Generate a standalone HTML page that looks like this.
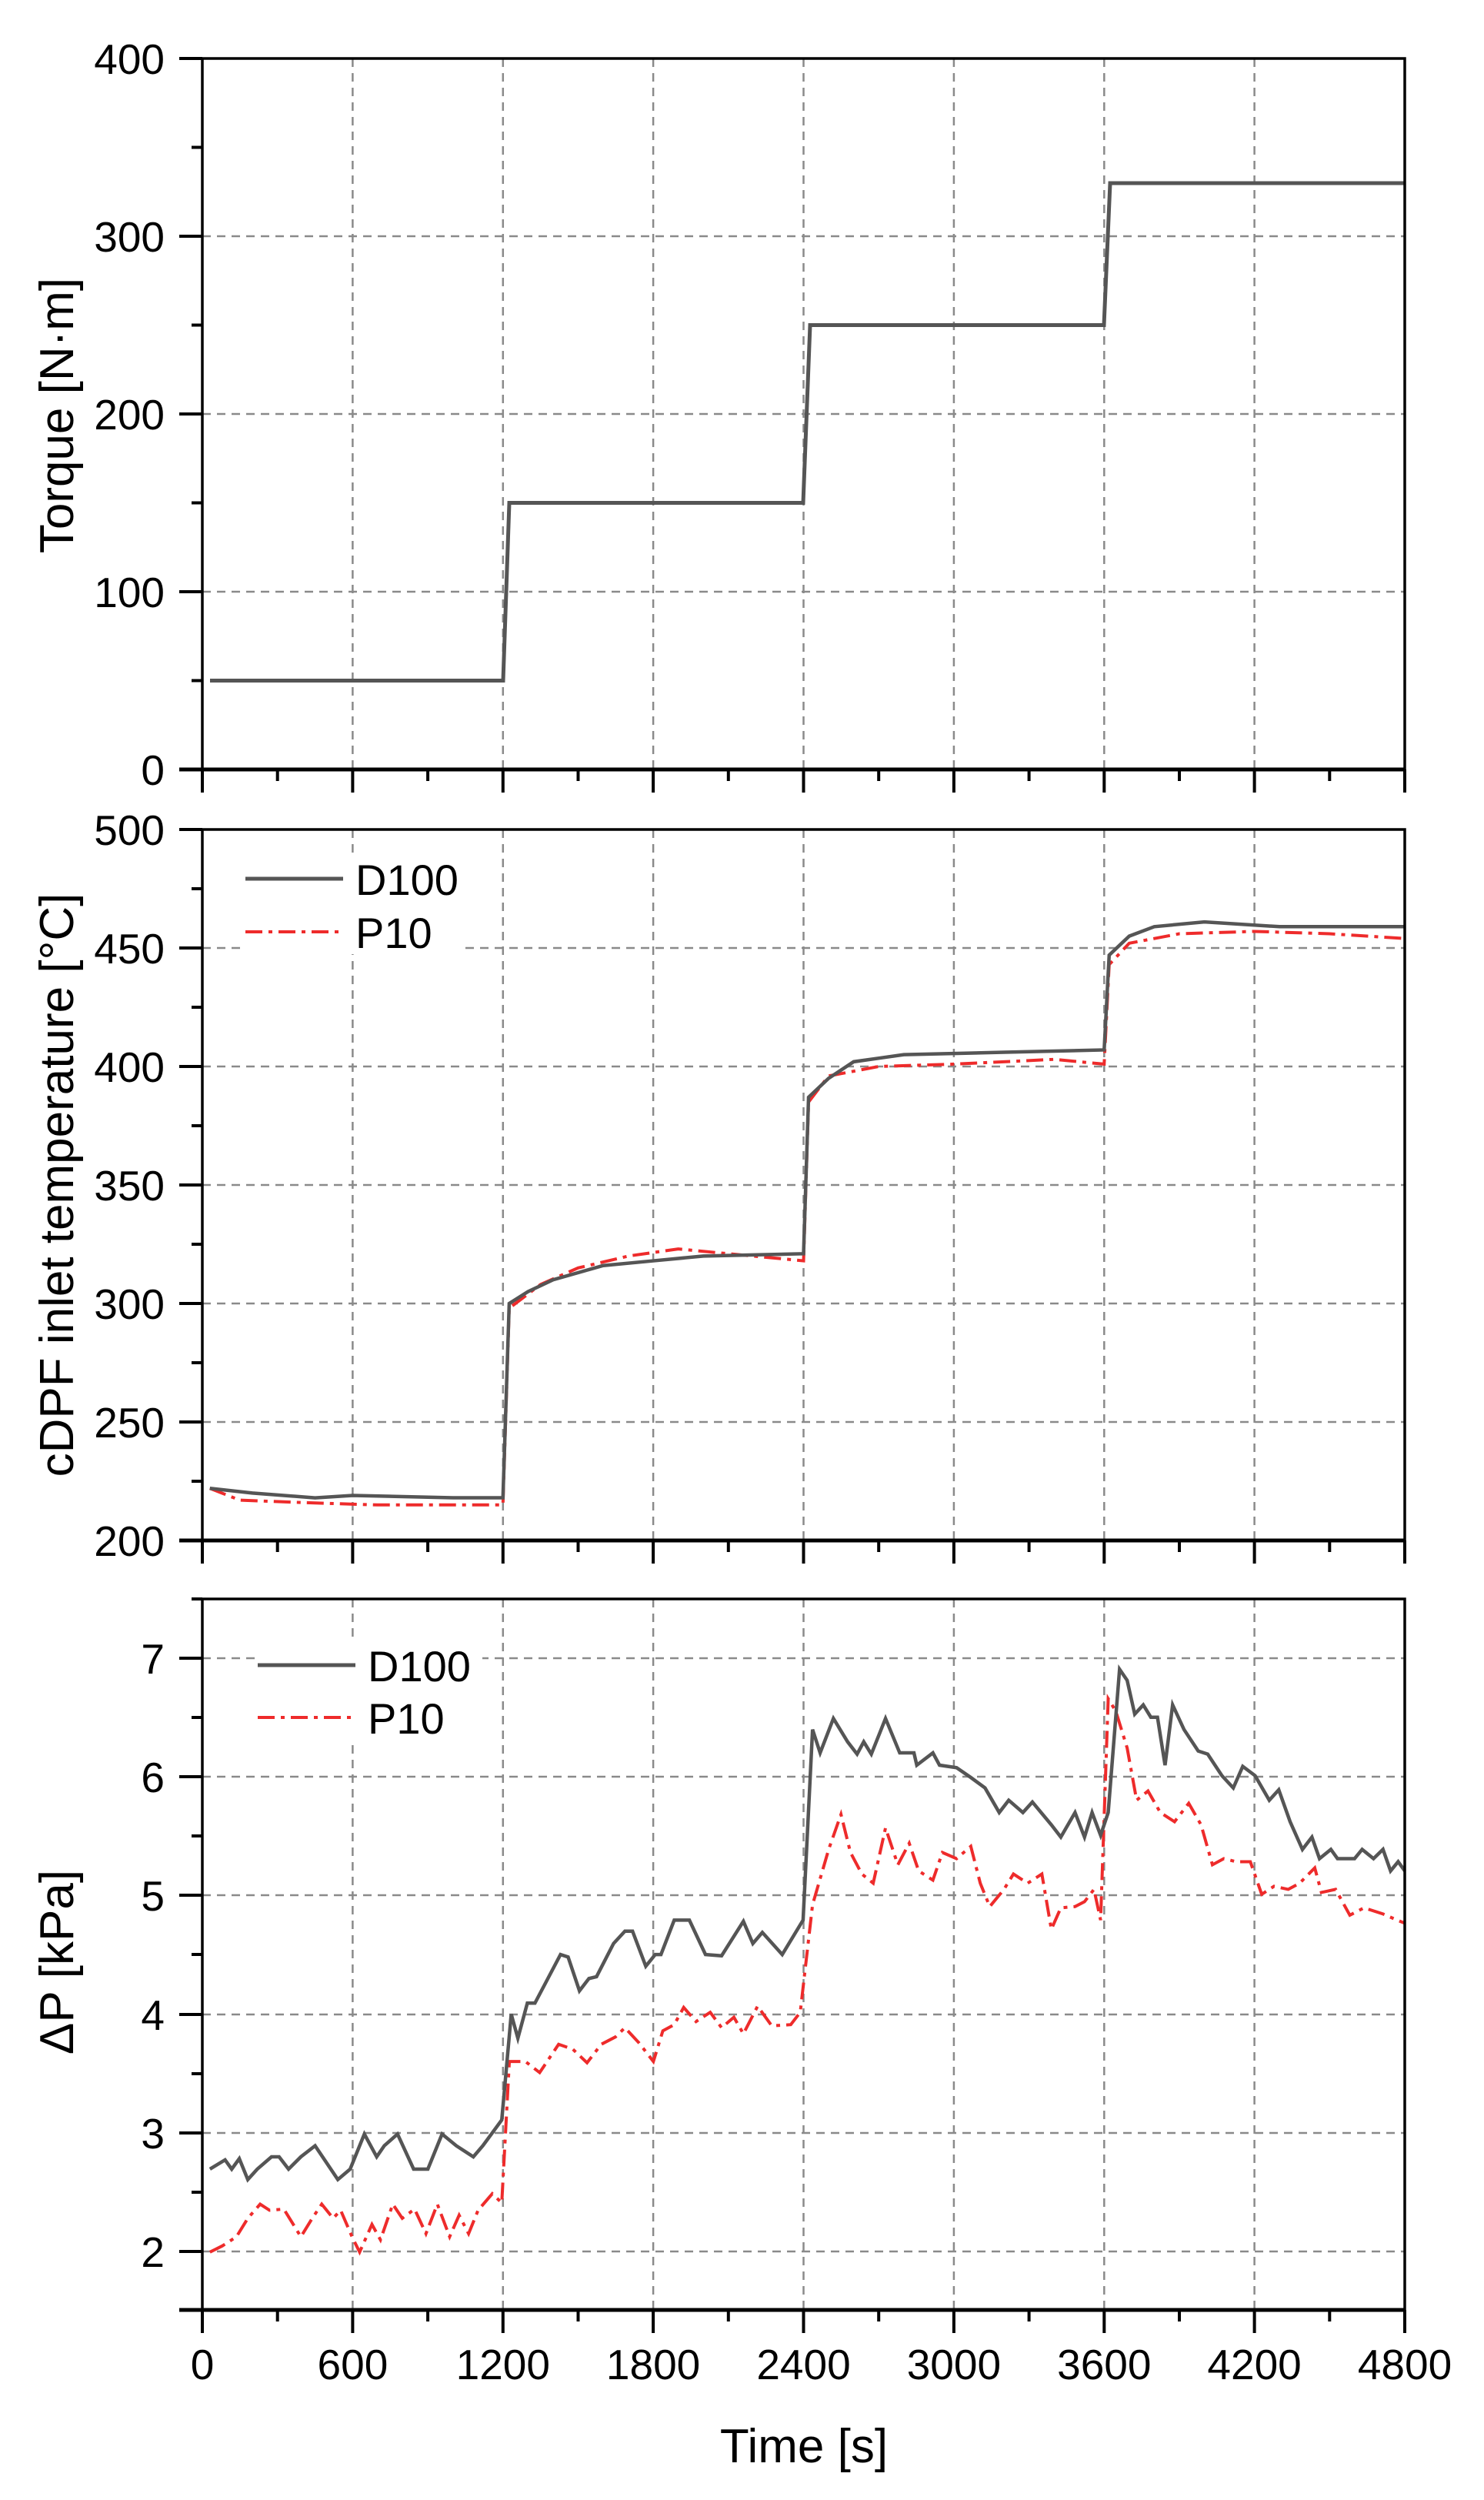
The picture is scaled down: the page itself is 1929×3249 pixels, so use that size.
<!DOCTYPE html>
<html><head><meta charset="utf-8"><style>
html,body{margin:0;padding:0;background:#fff;}
svg{display:block;}
text{font-family:"Liberation Sans",Arial,sans-serif;fill:#000;}
</style></head><body>
<svg width="1929" height="3249" viewBox="0 0 1929 3249" xmlns="http://www.w3.org/2000/svg">
<rect width="1929" height="3249" fill="#fff"/>
<g stroke="#8a8a8a" stroke-width="2.5" stroke-dasharray="11 8" fill="none">
  <path d="M458.4 76V1000M653.8 76V1000M849.1 76V1000M1044.5 76V1000M1239.9 76V1000M1435.3 76V1000M1630.6 76V1000"/>
  <path d="M458.4 1078V2002M653.8 1078V2002M849.1 1078V2002M1044.5 1078V2002M1239.9 1078V2002M1435.3 1078V2002M1630.6 1078V2002"/>
  <path d="M458.4 2078V3002M653.8 2078V3002M849.1 2078V3002M1044.5 2078V3002M1239.9 2078V3002M1435.3 2078V3002M1630.6 2078V3002"/>
  <path d="M263 307H1826M263 538H1826M263 769H1826"/>
  <path d="M263 1232H1826M263 1386H1826M263 1540H1826M263 1694H1826M263 1848H1826"/>
  <path d="M263 2155H1826M263 2309H1826M263 2463H1826M263 2618H1826M263 2772H1826M263 2926H1826"/>
</g>
<rect x="312" y="1110" width="292" height="130" fill="#fff"/>
<rect x="339" y="2130" width="288" height="130" fill="#fff"/>

<polyline fill="none" stroke="#555" stroke-width="5" points="273,884.5 654,884.5 662,653.5 1044,653.5 1053,422.5 1435,422.5 1443,238 1826,238"/>

<g transform="matrix(0.32563,0,0,-3.08,263,2618)">
<polyline fill="none" stroke="#ee2b2b" stroke-width="4" vector-effect="non-scaling-stroke" stroke-dasharray="22 8 5 8" points="30,222 150,217 400,216 700,215 1000,215 1200,215 1225,298 1350,308 1500,315 1700,320 1900,323 2200,320 2400,318 2420,385 2500,396 2700,400 3000,401 3400,403 3600,401 3620,443 3700,452 3900,456 4200,457 4500,456 4800,454"/>
<polyline fill="none" stroke="#555" stroke-width="4.5" vector-effect="non-scaling-stroke" points="30,222 200,220 450,218 600,219 1000,218 1200,218 1225,300 1300,305 1400,310 1600,316 1800,318 2000,320 2400,321 2420,387 2500,395 2600,402 2800,405 3200,406 3600,407 3620,447 3700,455 3800,459 4000,461 4300,459 4800,459"/>
</g>

<g transform="matrix(1.2317,0,0,0.799,-0.58,2000)">
<polyline fill="none" stroke="#ee2b2b" stroke-width="4" vector-effect="non-scaling-stroke" stroke-dasharray="22 8 5 8" points="222,1160 235,1150 250,1135 262,1105 275,1082 285,1092 300,1090 318,1135 330,1105 340,1082 352,1105 360,1092 372,1135 380,1160 393,1115 402,1140 415,1082 425,1105 438,1090 450,1130 462,1082 475,1135 485,1100 495,1130 505,1092 520,1065 530,1080 538,850 555,850 570,868 590,822 605,830 620,852 635,822 650,810 660,795 675,820 690,850 700,800 712,790 722,762 735,785 750,770 762,795 775,778 785,805 800,760 815,792 835,790 845,770 858,595 875,505 888,448 898,510 910,545 922,560 935,470 948,530 960,495 970,540 985,555 995,510 1010,520 1025,500 1035,560 1045,598 1060,570 1070,545 1085,560 1100,545 1110,635 1120,600 1135,598 1145,590 1155,570 1162,620 1170,260 1178,280 1190,340 1200,425 1212,410 1225,445 1240,460 1255,430 1268,465 1280,530 1292,520 1305,525 1320,525 1332,578 1345,565 1360,570 1372,560 1388,535 1395,575 1410,570 1425,612 1440,600 1460,610 1475,620 1483,625"/>
<polyline fill="none" stroke="#555" stroke-width="4.5" vector-effect="non-scaling-stroke" points="222,1025 238,1010 245,1025 253,1008 262,1042 272,1025 287,1005 295,1005 305,1025 318,1005 333,987 357,1042 370,1025 385,968 398,1005 406,987 420,968 437,1025 452,1025 467,968 482,987 500,1005 510,987 530,945 540,773 547,812 557,755 565,755 578,717 592,676 600,680 612,735 622,715 630,712 648,658 660,638 668,638 682,695 692,676 698,676 712,620 728,620 745,676 762,678 785,622 795,658 805,640 826,676 848,620 858,310 866,348 880,292 895,330 905,350 912,330 920,350 935,292 950,348 965,348 968,368 985,348 992,368 1010,372 1025,388 1040,405 1055,445 1065,425 1080,445 1090,428 1110,465 1120,485 1135,445 1145,485 1153,445 1162,482 1170,445 1182,212 1190,230 1198,285 1207,270 1215,290 1222,290 1230,368 1238,270 1250,310 1265,345 1275,350 1290,385 1302,405 1312,370 1325,385 1340,425 1350,408 1362,460 1375,505 1385,485 1393,520 1405,505 1412,520 1430,520 1438,505 1450,520 1460,505 1468,540 1476,525 1483,540"/>
</g>

<g fill="none" stroke="#000">
  <rect x="263" y="76" width="1563" height="924" stroke-width="3.5"/>
  <rect x="263" y="1078" width="1563" height="924" stroke-width="3.5"/>
  <rect x="263" y="2078" width="1563" height="924" stroke-width="3.5"/>
  <path d="M233 1000H1826M233 2002H1826M233 3002H1826" stroke-width="5"/>
  <path stroke-width="4" d="M263 1000v30M458.4 1000v30M653.8 1000v30M849.1 1000v30M1044.5 1000v30M1239.9 1000v30M1435.3 1000v30M1630.6 1000v30M1826 1000v30
  M263 2002v30M458.4 2002v30M653.8 2002v30M849.1 2002v30M1044.5 2002v30M1239.9 2002v30M1435.3 2002v30M1630.6 2002v30M1826 2002v30
  M263 3002v30M458.4 3002v30M653.8 3002v30M849.1 3002v30M1044.5 3002v30M1239.9 3002v30M1435.3 3002v30M1630.6 3002v30M1826 3002v30"/>
  <path stroke-width="4" d="M360.7 1000v15M556.1 1000v15M751.5 1000v15M946.8 1000v15M1142.2 1000v15M1337.6 1000v15M1533 1000v15M1728.3 1000v15
  M360.7 2002v15M556.1 2002v15M751.5 2002v15M946.8 2002v15M1142.2 2002v15M1337.6 2002v15M1533 2002v15M1728.3 2002v15
  M360.7 3002v15M556.1 3002v15M751.5 3002v15M946.8 3002v15M1142.2 3002v15M1337.6 3002v15M1533 3002v15M1728.3 3002v15"/>
  <path stroke-width="4" d="M233 76h30M233 307h30M233 538h30M233 769h30
  M233 1078h30M233 1232h30M233 1386h30M233 1540h30M233 1694h30M233 1848h30
  M233 2155h30M233 2309h30M233 2463h30M233 2618h30M233 2772h30M233 2926h30"/>
  <path stroke-width="4" d="M249 191.5h14M249 422.5h14M249 653.5h14M249 884.5h14
  M249 1155h14M249 1309h14M249 1463h14M249 1617h14M249 1771h14M249 1925h14
  M249 2078h14M249 2232h14M249 2386h14M249 2540h14M249 2695h14M249 2849h14"/>
</g>

<line x1="319" y1="1142" x2="446" y2="1142" stroke="#555" stroke-width="5"/>
<line x1="319" y1="1211" x2="446" y2="1211" stroke="#ee2b2b" stroke-width="4" stroke-dasharray="22 8 5 8"/>
<text x="462" y="1163" font-size="56">D100</text>
<text x="462" y="1232" font-size="56">P10</text>
<line x1="335" y1="2164" x2="462" y2="2164" stroke="#555" stroke-width="5"/>
<line x1="335" y1="2232" x2="462" y2="2232" stroke="#ee2b2b" stroke-width="4" stroke-dasharray="22 8 5 8"/>
<text x="478" y="2185" font-size="56">D100</text>
<text x="478" y="2253" font-size="56">P10</text>

<g font-size="55" text-anchor="end">
  <text x="214" y="96">400</text><text x="214" y="327">300</text><text x="214" y="558">200</text><text x="214" y="789">100</text><text x="214" y="1020">0</text>
  <text x="214" y="1098">500</text><text x="214" y="1252">450</text><text x="214" y="1406">400</text><text x="214" y="1560">350</text><text x="214" y="1714">300</text><text x="214" y="1868">250</text><text x="214" y="2022">200</text>
  <text x="214" y="2175">7</text><text x="214" y="2329">6</text><text x="214" y="2483">5</text><text x="214" y="2638">4</text><text x="214" y="2792">3</text><text x="214" y="2946">2</text>
</g>
<g font-size="55" text-anchor="middle">
  <text x="263" y="3092">0</text><text x="458.4" y="3092">600</text><text x="653.8" y="3092">1200</text><text x="849.1" y="3092">1800</text><text x="1044.5" y="3092">2400</text><text x="1239.9" y="3092">3000</text><text x="1435.3" y="3092">3600</text><text x="1630.6" y="3092">4200</text><text x="1826" y="3092">4800</text>
</g>
<g font-size="62" text-anchor="middle">
  <text transform="translate(95,540) rotate(-90)">Torque [N·m]</text>
  <text transform="translate(95,1540) rotate(-90)">cDPF inlet temperature [°C]</text>
  <text transform="translate(95,2550) rotate(-90)">ΔP [kPa]</text>
  <text x="1045" y="3200">Time [s]</text>
</g>
</svg>
</body></html>
